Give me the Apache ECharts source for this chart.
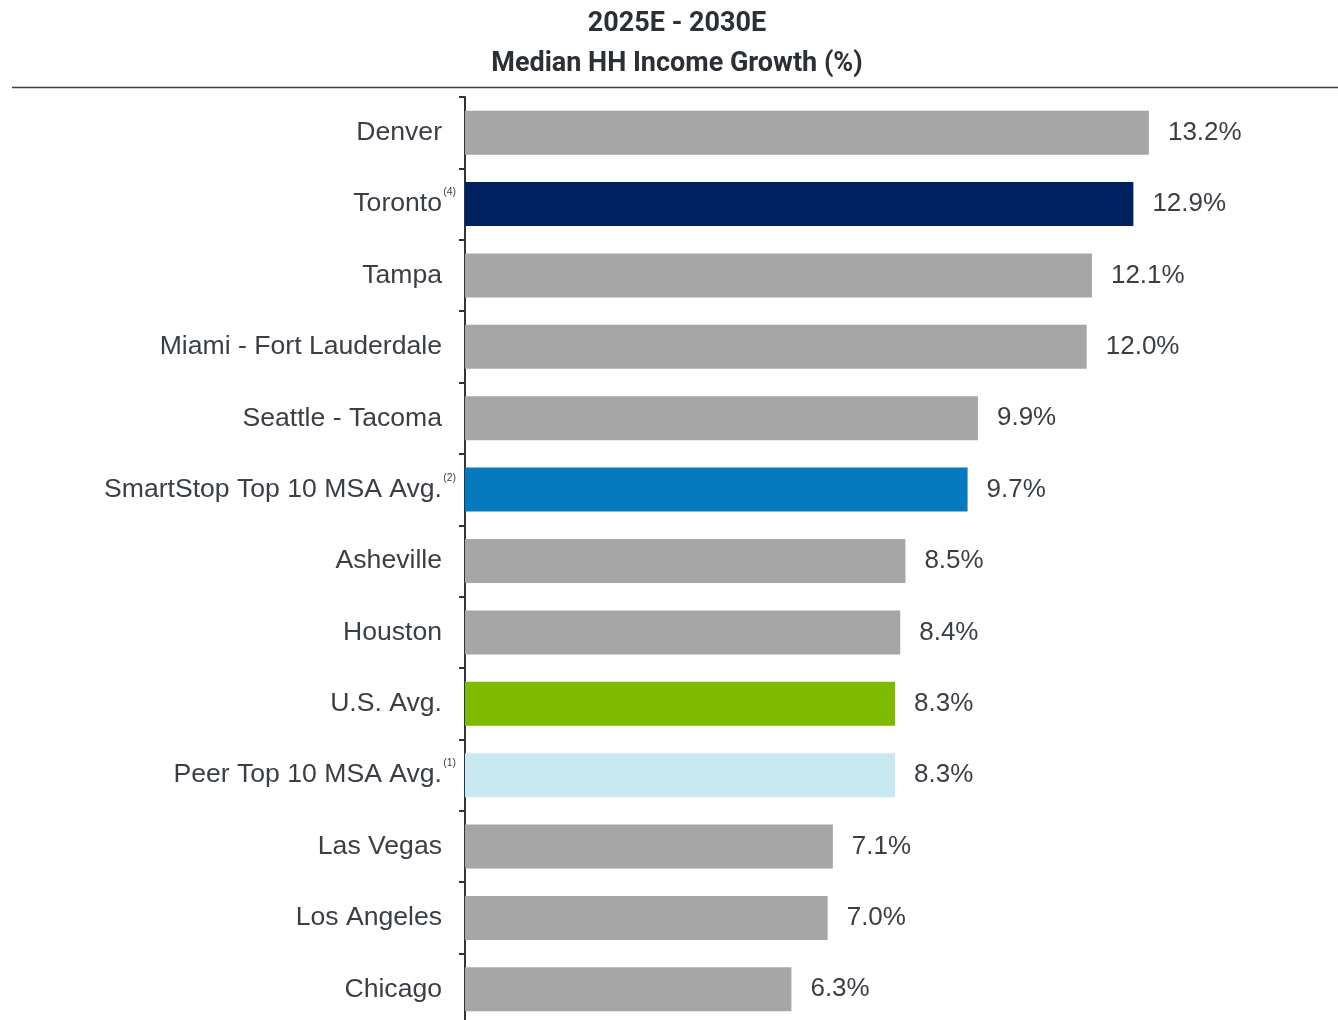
<!DOCTYPE html>
<html>
<head>
<meta charset="utf-8">
<script src="https://cdn.jsdelivr.net/npm/echarts@6/dist/echarts.min.js"></script>
<style>
  html, body { margin: 0; padding: 0; background: #fff; overflow: hidden; }
  #chart { width: 1338px; height: 1030px; }
</style>
</head>
<body>
<div id="chart"></div>
<script>
var categories = ["Denver", "Toronto", "Tampa", "Miami - Fort Lauderdale", "Seattle - Tacoma",
  "SmartStop Top 10 MSA Avg.", "Asheville", "Houston", "U.S. Avg.", "Peer Top 10 MSA Avg.",
  "Las Vegas", "Los Angeles", "Chicago"];
var footnotes = ["", "(4)", "", "", "", "(2)", "", "", "", "(1)", "", "", ""];
var growth = [13.2, 12.9, 12.1, 12.0, 9.9, 9.7, 8.5, 8.4, 8.3, 8.3, 7.1, 7.0, 6.3];
var barColors = ["#a6a6a6", "#002060", "#a6a6a6", "#a6a6a6", "#a6a6a6", "#0779bf", "#a6a6a6",
  "#a6a6a6", "#7fba00", "#c9e9f2", "#a6a6a6", "#a6a6a6", "#a6a6a6"];

var textColor = "#3a3f45";
var labelFont = "'Liberation Sans', Arial, sans-serif";
var titleFont = "bold 27px Roboto, sans-serif";
var myChart = echarts.init(document.getElementById("chart"));

var barData = growth.map(function (v, i) {
  return { value: v, itemStyle: { color: barColors[i] } };
});

myChart.setOption({
  animation: false,
  graphic: [
    {
      type: "text",
      x: 677, y: 24,
      style: {
        text: "2025E - 2030E",
        font: titleFont,
        fill: "#2b3036", align: "center", verticalAlign: "middle"
      }
    },
    {
      type: "text",
      x: 677, y: 64,
      style: {
        text: "Median HH Income Growth (%)",
        font: titleFont,
        fill: "#2b3036", align: "center", verticalAlign: "middle"
      }
    },
    {
      type: "line",
      shape: { x1: 12, y1: 87.5, x2: 1338, y2: 87.5 },
      style: { stroke: "#3a3f45", lineWidth: 1.5 }
    }
  ],
  grid: {
    left: 465,
    width: 829,
    top: 97,
    bottom: 5,
    containLabel: false
  },
  xAxis: {
    type: "value",
    min: 0,
    max: 16,
    show: false
  },
  yAxis: {
    type: "category",
    inverse: true,
    data: categories,
    axisLine: { show: true, lineStyle: { color: "#2f343b", width: 2 } },
    axisTick: { show: true, length: 6, lineStyle: { color: "#2f343b", width: 2 } },
    axisLabel: {
      margin: 9,
      color: textColor,
      fontFamily: labelFont,
      fontSize: 26.6,
      formatter: function (value, idx) {
        var note = footnotes[idx];
        if (note) {
          return "{a|" + value + "}{sup|" + note + "}";
        }
        return "{b|" + value + "}";
      },
      rich: {
        a: { fontSize: 26.6, fontFamily: labelFont, color: textColor },
        b: { fontSize: 26.6, fontFamily: labelFont, color: textColor, padding: [0, 14, 0, 0] },
        sup: { fontSize: 10.5, fontFamily: labelFont, color: textColor, width: 14, padding: [0, 0, 24, 0] }
      }
    }
  },
  series: [
    {
      type: "bar",
      barWidth: 44,
      data: barData,
      label: {
        show: true,
        position: "right",
        distance: 19,
        color: textColor,
        fontFamily: labelFont,
        fontSize: 26,
        formatter: function (p) { return p.value.toFixed(1) + "%"; }
      }
    }
  ]
});
</script>
</body>
</html>
